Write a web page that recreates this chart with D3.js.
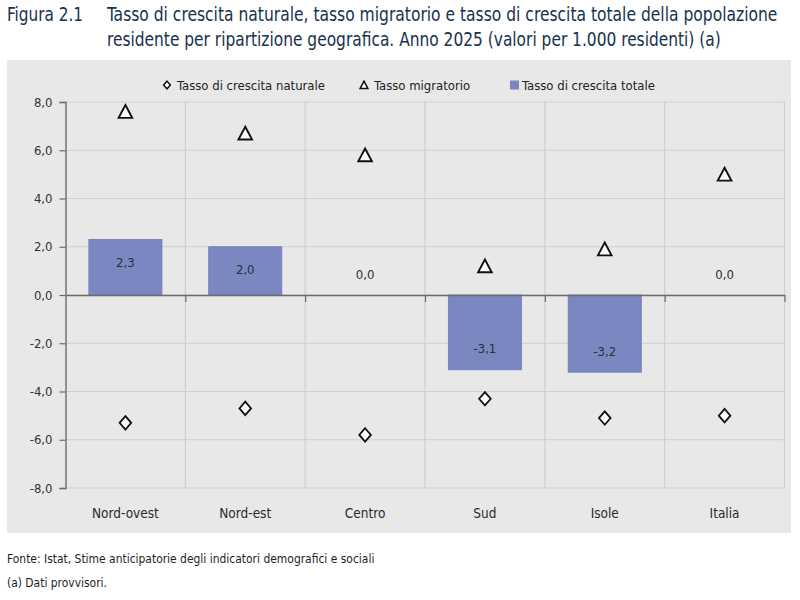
<!DOCTYPE html>
<html>
<head>
<meta charset="utf-8">
<script src="https://cdn.jsdelivr.net/npm/d3@7"></script>
<style>
  body { margin: 0; background: #fff; }
  svg { display: block; }
  text { font-family: "Liberation Sans Narrow", "Arial Narrow", "DejaVu Sans Condensed", sans-serif; }
</style>
</head>
<body>
<div id="chart"></div>
<script>
// data
var regions    = ["Nord-ovest", "Nord-est", "Centro", "Sud", "Isole", "Italia"];
var naturale   = [-5.3, -4.7, -5.8, -4.3, -5.1, -5.0];
var migratorio = [7.6, 6.7, 5.8, 1.2, 1.9, 5.0];
var totale     = [2.3, 2.0, 0.0, -3.1, -3.2, 0.0];
var yTicks     = [-8, -6, -4, -2, 0, 2, 4, 6, 8];
var legendLabels = ["Tasso di crescita naturale", "Tasso migratorio", "Tasso di crescita totale"];

var width = 800, height = 600;
var barColor = "#7a87c0";

// italian number format, plain hyphen as minus like the original
var it = d3.formatLocale({decimal: ",", thousands: ".", grouping: [3], currency: ["", "€"], minus: "-"});
var fmt = it.format(".1f");

var svg = d3.select("#chart")
  .append("svg")
    .attr("width", width)
    .attr("height", height);

// squeeze a text horizontally so it takes the given width
function fitText(sel, x0, y0, w) {
  var natural = sel.node().getComputedTextLength();
  var k = Math.min(1, w / natural);
  sel.attr("x", 0).attr("y", 0)
    .attr("transform", "translate(" + x0 + "," + y0 + ") scale(" + k + ",1)");
}

// title
var titleColor = "#17324d";
var t0 = svg.append("text").attr("fill", titleColor).attr("font-size", 20)
  .text("Figura 2.1");
fitText(t0, 7, 21, 76);
var t1 = svg.append("text").attr("fill", titleColor).attr("font-size", 20)
  .text("Tasso di crescita naturale, tasso migratorio e tasso di crescita totale della popolazione");
fitText(t1, 107, 21, 671);
var t2 = svg.append("text").attr("fill", titleColor).attr("font-size", 20)
  .text("residente per ripartizione geografica. Anno 2025 (valori per 1.000 residenti) (a)");
fitText(t2, 107, 46, 614);

// grey panel
svg.append("rect")
  .attr("x", 7).attr("y", 60)
  .attr("width", 784).attr("height", 473)
  .attr("fill", "#e8e8e9");

// scales
var x = d3.scaleBand()
  .domain(regions)
  .range([65.5, 784.5])
  .padding(0);

var y = d3.scaleLinear()
  .domain([-8, 8])
  .range([488, 102]);

var barW = x.bandwidth() * 0.61;

// horizontal gridlines
svg.append("g")
  .selectAll("line")
  .data(yTicks)
  .enter().append("line")
    .attr("x1", x.range()[0]).attr("x2", x.range()[1])
    .attr("y1", function(d) { return y(d); })
    .attr("y2", function(d) { return y(d); })
    .attr("stroke", "#cfcfcf").attr("stroke-width", 1.2);

// vertical gridlines at category boundaries
var bounds = regions.map(function(r) { return x(r); }).concat([x.range()[1]]);
svg.append("g")
  .selectAll("line")
  .data(bounds.slice(1))
  .enter().append("line")
    .attr("x1", function(d) { return d; })
    .attr("x2", function(d) { return d; })
    .attr("y1", y(8)).attr("y2", y(-8))
    .attr("stroke", "#cfcfcf").attr("stroke-width", 1.2);

// bars
svg.append("g")
  .selectAll("rect")
  .data(regions)
  .enter().append("rect")
    .attr("x", function(d) { return x(d) + (x.bandwidth() - barW) / 2; })
    .attr("y", function(d, i) { return y(Math.max(0, totale[i])); })
    .attr("width", barW)
    .attr("height", function(d, i) { return Math.abs(y(totale[i]) - y(0)); })
    .attr("fill", barColor)
    .attr("stroke", "#6e7bb5").attr("stroke-width", 0.8);

// bar labels
svg.append("g")
  .selectAll("text")
  .data(regions)
  .enter().append("text")
    .attr("x", function(d) { return x(d) + x.bandwidth() / 2; })
    .attr("y", function(d, i) { return totale[i] > 0 ? y(totale[i]) + 23 : y(totale[i]) - 21; })
    .attr("dy", "0.35em")
    .attr("text-anchor", "middle")
    .attr("font-size", 13)
    .attr("fill", "#2a2f3a")
    .text(function(d, i) { return fmt(totale[i]); });

// y axis
var yAxis = svg.append("g")
  .attr("transform", "translate(" + x.range()[0] + ",0)")
  .call(d3.axisLeft(y).tickValues(yTicks).tickFormat(fmt).tickSize(6).tickPadding(7));
yAxis.select(".domain").attr("stroke", "#6b6b6b").attr("stroke-width", 1.4);
yAxis.selectAll(".tick line").attr("stroke", "#6b6b6b").attr("stroke-width", 1.2);
yAxis.selectAll(".tick text")
  .attr("font-size", 13)
  .attr("fill", "#333")
  .attr("font-family", "Liberation Sans Narrow, Arial Narrow, DejaVu Sans Condensed, sans-serif");

// zero axis with category ticks
var xAxis = svg.append("g")
  .attr("transform", "translate(0," + y(0) + ")")
  .call(d3.axisBottom(d3.scaleLinear().domain(x.range()).range(x.range()))
    .tickValues(bounds.slice(1)).tickSizeInner(7).tickSizeOuter(0).tickFormat(""));
xAxis.select(".domain").attr("stroke", "#6b6b6b").attr("stroke-width", 1.4);
xAxis.selectAll(".tick line").attr("stroke", "#6b6b6b").attr("stroke-width", 1.2);

// category labels
svg.append("g")
  .selectAll("text")
  .data(regions)
  .enter().append("text")
    .attr("x", function(d) { return x(d) + x.bandwidth() / 2; })
    .attr("y", 513)
    .attr("dy", "0.35em")
    .attr("text-anchor", "middle")
    .attr("font-size", 13.5)
    .attr("fill", "#2b2b2b")
    .text(function(d) { return d; });

// marker shapes
var diamond = "M0,-6.7L5.8,0L0,6.7L-5.8,0Z";
var triangle = "M0,-6.6L6.8,6.2L-6.8,6.2Z";

svg.append("g")
  .selectAll("path")
  .data(regions)
  .enter().append("path")
    .attr("transform", function(d, i) { return "translate(" + (x(d) + x.bandwidth() / 2) + "," + y(migratorio[i]) + ")"; })
    .attr("d", triangle)
    .attr("fill", "#fff").attr("stroke", "#111").attr("stroke-width", 1.9)
    .attr("stroke-linejoin", "miter");

svg.append("g")
  .selectAll("path")
  .data(regions)
  .enter().append("path")
    .attr("transform", function(d, i) { return "translate(" + (x(d) + x.bandwidth() / 2) + "," + y(naturale[i]) + ")"; })
    .attr("d", diamond)
    .attr("fill", "#fff").attr("stroke", "#111").attr("stroke-width", 1.8);

// legend
var legend = svg.append("g").attr("transform", "translate(0,85)");
legend.append("path")
  .attr("transform", "translate(167,0)")
  .attr("d", "M0,-3.8L3.4,0L0,3.8L-3.4,0Z")
  .attr("fill", "#fff").attr("stroke", "#111").attr("stroke-width", 1.5);
legend.append("path")
  .attr("transform", "translate(364,0)")
  .attr("d", "M0,-3.8L3.9,3.6L-3.9,3.6Z")
  .attr("fill", "#fff").attr("stroke", "#111").attr("stroke-width", 1.5);
legend.append("rect")
  .attr("x", 510).attr("y", -4.5).attr("width", 9).attr("height", 9)
  .attr("fill", barColor);

var legendX = [177, 374, 522];
legend.selectAll("text.lg")
  .data(legendLabels)
  .enter().append("text")
    .attr("class", "lg")
    .attr("x", function(d, i) { return legendX[i]; })
    .attr("y", 0)
    .attr("dy", "0.35em")
    .attr("font-size", 13)
    .attr("fill", "#222")
    .text(function(d) { return d; });

// source notes
var f1 = svg.append("text").attr("dy", "0.35em")
  .attr("font-size", 13).attr("fill", "#1e1e1e")
  .text("Fonte: Istat, Stime anticipatorie degli indicatori demografici e sociali");
fitText(f1, 7, 558, 368);
var f2 = svg.append("text").attr("dy", "0.35em")
  .attr("font-size", 13).attr("fill", "#1e1e1e")
  .text("(a) Dati provvisori.");
fitText(f2, 7, 582, 100);
</script>
</body>
</html>
